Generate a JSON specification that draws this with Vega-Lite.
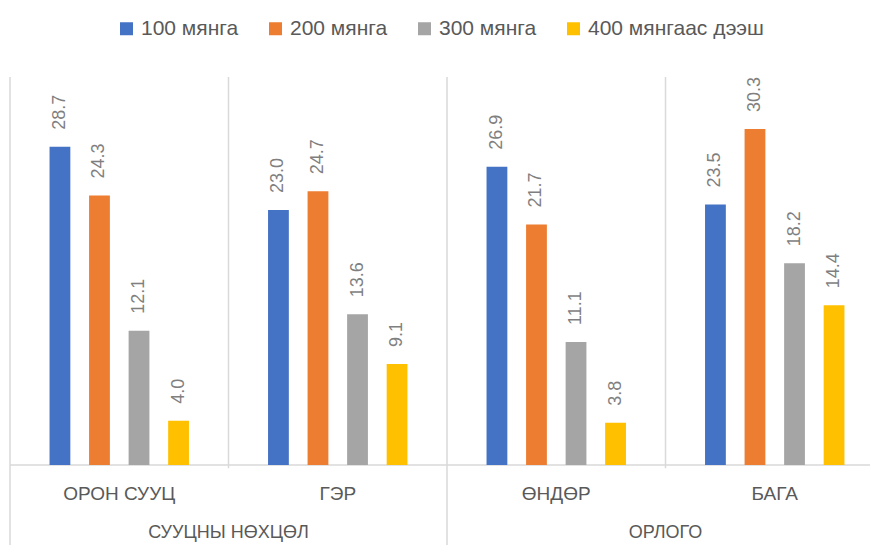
{
  "$schema": "https://vega.github.io/schema/vega-lite/v6.json",
  "width": 860,
  "height": 388,
  "autosize": "none",
  "padding": {"left": 10, "top": 77, "right": 0, "bottom": 80},
  "background": "white",
  "config": {"view": {"stroke": null}, "font": "Liberation Sans"},
  "datasets": {
    "bars": [
      {"group": "ОРОН СУУЦ", "series": "100 мянга", "value": 28.7},
      {"group": "ОРОН СУУЦ", "series": "200 мянга", "value": 24.3},
      {"group": "ОРОН СУУЦ", "series": "300 мянга", "value": 12.1},
      {"group": "ОРОН СУУЦ", "series": "400 мянгаас дээш", "value": 4.0},
      {"group": "ГЭР", "series": "100 мянга", "value": 23.0},
      {"group": "ГЭР", "series": "200 мянга", "value": 24.7},
      {"group": "ГЭР", "series": "300 мянга", "value": 13.6},
      {"group": "ГЭР", "series": "400 мянгаас дээш", "value": 9.1},
      {"group": "ӨНДӨР", "series": "100 мянга", "value": 26.9},
      {"group": "ӨНДӨР", "series": "200 мянга", "value": 21.7},
      {"group": "ӨНДӨР", "series": "300 мянга", "value": 11.1},
      {"group": "ӨНДӨР", "series": "400 мянгаас дээш", "value": 3.8},
      {"group": "БАГА", "series": "100 мянга", "value": 23.5},
      {"group": "БАГА", "series": "200 мянга", "value": 30.3},
      {"group": "БАГА", "series": "300 мянга", "value": 18.2},
      {"group": "БАГА", "series": "400 мянгаас дээш", "value": 14.4}
    ],
    "inner": [{"group": "ГЭР"}, {"group": "БАГА"}],
    "outer": [{"group": "ОРОН СУУЦ"}, {"group": "ӨНДӨР"}],
    "base": [{"group": "ОРОН СУУЦ", "end": "БАГА"}],
    "super": [{"group": "ГЭР", "label": "СУУЦНЫ НӨХЦӨЛ"}, {"group": "БАГА", "label": "ОРЛОГО"}]
  },
  "resolve": {"scale": {"x": "shared", "y": "shared"}},
  "layer": [
    {
      "data": {"name": "inner"},
      "mark": {"type": "rule", "color": "#D9D9D9", "strokeWidth": 1.5},
      "encoding": {
        "x": {"field": "group", "type": "nominal", "bandPosition": 0, "sort": null,
          "scale": {"type": "band", "domain": ["ОРОН СУУЦ", "ГЭР", "ӨНДӨР", "БАГА"], "range": [0, 874], "paddingInner": 0, "paddingOuter": 0},
          "axis": {"title": null, "labelAngle": 0, "ticks": false, "grid": false, "domain": false, "labelFontSize": 19, "labelColor": "#595959", "labelPadding": 28, "labelFont": "Liberation Sans", "labelBaseline": "middle", "bandPosition": 0.5}},
        "y": {"datum": 35, "type": "quantitative", "scale": {"domain": [0, 35], "nice": false, "clamp": false}, "axis": null},
        "y2": {"datum": -0.3}
      }
    },
    {
      "data": {"name": "outer"},
      "mark": {"type": "rule", "color": "#D9D9D9", "strokeWidth": 1.5},
      "encoding": {
        "x": {"field": "group", "type": "nominal", "bandPosition": 0, "sort": null},
        "y": {"datum": 35, "type": "quantitative"},
        "y2": {"datum": -7.3}
      }
    },
    {
      "data": {"name": "base"},
      "mark": {"type": "rule", "color": "#D9D9D9", "strokeWidth": 1.5},
      "encoding": {
        "x": {"field": "group", "type": "nominal", "bandPosition": 0, "sort": null},
        "x2": {"field": "end", "bandPosition": 1},
        "y": {"datum": 0, "type": "quantitative"}
      }
    },
    {
      "data": {"name": "bars"},
      "mark": {"type": "bar"},
      "encoding": {
        "x": {"field": "group", "type": "nominal", "sort": null},
        "xOffset": {"field": "series", "type": "nominal", "sort": null, "scale": {"paddingInner": 0.474, "paddingOuter": 1.112}},
        "y": {"field": "value", "type": "quantitative"},
        "color": {
          "field": "series", "type": "nominal", "sort": null,
          "scale": {"domain": ["100 мянга", "200 мянга", "300 мянга", "400 мянгаас дээш"], "range": ["#4472C4", "#ED7D31", "#A5A5A5", "#FFC000"]},
          "legend": {"title": null, "orient": "none", "legendX": 106, "legendY": -59, "direction": "horizontal", "symbolType": "square", "symbolSize": 169, "symbolStrokeWidth": 0, "labelFontSize": 21, "labelColor": "#595959", "columnPadding": 26, "labelOffset": 4, "labelLimit": 400, "labelFont": "Liberation Sans"}
        }
      }
    },
    {
      "data": {"name": "bars"},
      "mark": {"type": "text", "angle": 270, "align": "left", "baseline": "middle", "dx": 17, "fontSize": 18, "color": "#7F7F7F"},
      "encoding": {
        "x": {"field": "group", "type": "nominal", "sort": null},
        "xOffset": {"field": "series", "type": "nominal", "sort": null},
        "y": {"field": "value", "type": "quantitative"},
        "text": {"field": "value", "type": "quantitative", "format": ".1f"}
      }
    },
    {
      "data": {"name": "super"},
      "mark": {"type": "text", "baseline": "middle", "align": "center", "dy": 68, "fontSize": 18, "color": "#595959"},
      "encoding": {
        "x": {"field": "group", "type": "nominal", "bandPosition": 0, "sort": null},
        "y": {"datum": 0, "type": "quantitative"},
        "text": {"field": "label", "type": "nominal"}
      }
    }
  ]
}
